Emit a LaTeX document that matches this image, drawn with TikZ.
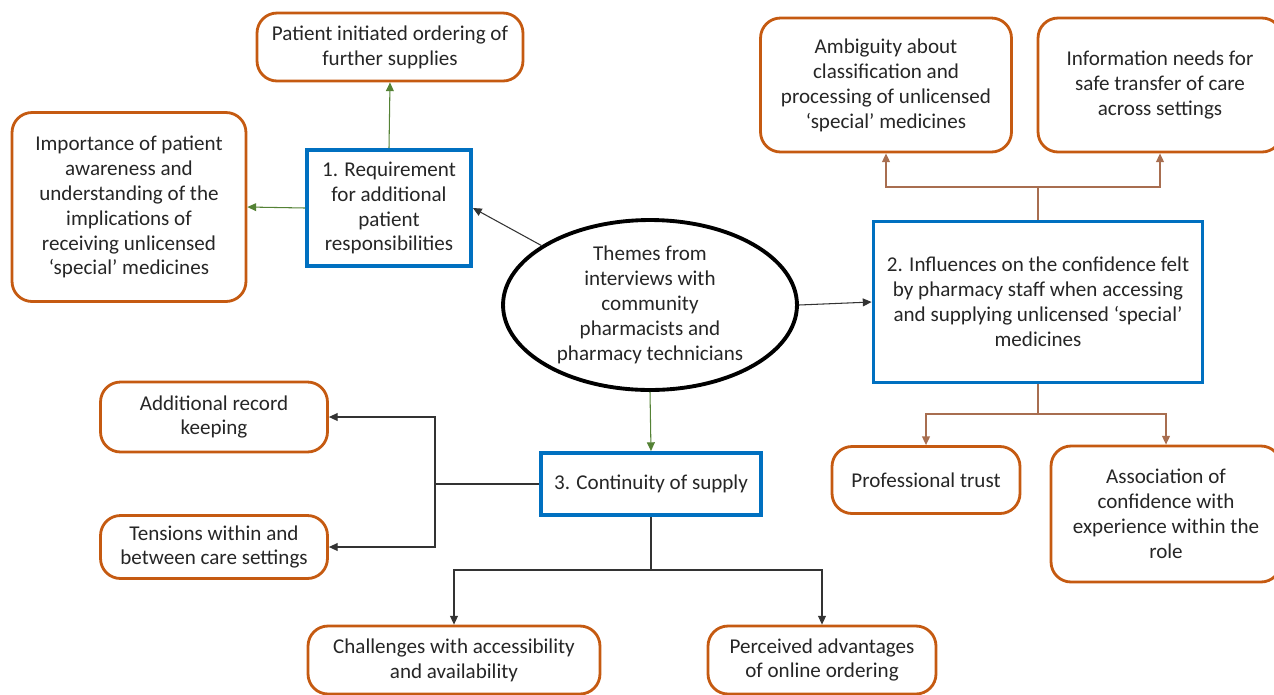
\documentclass[tikz,border=0pt]{standalone}
\usepackage{fontspec}
\setmainfont{Carlito}
\usetikzlibrary{shapes.geometric,arrows.meta}
\definecolor{boxorange}{RGB}{197,90,17}
\definecolor{themeblue}{RGB}{0,112,192}
\definecolor{linkgreen}{RGB}{84,130,53}
\definecolor{linkbrown}{RGB}{168,110,80}
\begin{document}
\begin{tikzpicture}[x=0.02cm,y=-0.02cm,
    every node/.style={align=center,inner sep=0pt,text=black!85,
      font=\fontsize{12}{14.2}\selectfont},
    subtheme/.style={draw=boxorange,line width=1.6pt,rounded corners=0.4cm},
    theme/.style={draw=themeblue,line width=2.2pt},
    tip/.style={-{Triangle[length=5pt,width=4.5pt]}},
    greenlink/.style={tip,draw=linkgreen,line width=0.6pt},
    brownlink/.style={draw=linkbrown,line width=0.8pt},
    blacklink/.style={draw=black!80,line width=0.6pt}]
    \useasboundingbox (0,0) rectangle (1274,694);
    \node [draw=black,line width=2.2pt,ellipse,minimum width=5.88cm,minimum height=3.4cm] (core) at (650,305)
        {Themes from\\interviews with\\community\\pharmacists and\\pharmacy technicians};
    \node [theme,minimum width=3.28cm,minimum height=2.32cm] (req) at (389,208)
        {1. Requirement\\for additional\\patient\\responsibilities};
    \node [theme,minimum width=6.58cm,minimum height=3.22cm] (conf) at (1038,302)
        {2. Influences on the confidence felt\\by pharmacy staff when accessing\\and supplying unlicensed `special'\\medicines};
    \node [theme,minimum width=4.4cm,minimum height=1.24cm] (cont) at (651,484)
        {3. Continuity of supply};
    \node [subtheme,minimum width=5.32cm,minimum height=1.36cm] (order) at (390,47)
        {Patient initiated ordering of\\further supplies};
    \node [subtheme,minimum width=4.68cm,minimum height=3.78cm] (aware) at (129,207)
        {Importance of patient\\awareness and\\understanding of the\\implications of\\receiving unlicensed\\`special' medicines};
    \node [subtheme,minimum width=5.02cm,minimum height=2.68cm] (ambig) at (886,85)
        {Ambiguity about\\classification and\\processing of unlicensed\\`special' medicines};
    \node [subtheme,minimum width=4.88cm,minimum height=2.68cm] (info) at (1160,85)
        {Information needs for\\safe transfer of care\\across settings};
    \node [subtheme,minimum width=3.76cm,minimum height=1.34cm] (trust) at (926,480)
        {Professional trust};
    \node [subtheme,minimum width=4.6cm,minimum height=2.72cm] (exper) at (1166,514)
        {Association of\\confidence with\\experience within the\\role};
    \node [subtheme,minimum width=4.54cm,minimum height=1.4cm] (record) at (214,417)
        {Additional record\\keeping};
    \node [subtheme,minimum width=4.54cm,minimum height=1.26cm] (tension) at (214,547)
        {Tensions within and\\between care settings};
    \node [subtheme,minimum width=5.84cm,minimum height=1.36cm] (access) at (454,660)
        {Challenges with accessibility\\and availability};
    \node [subtheme,minimum width=4.56cm,minimum height=1.36cm] (online) at (822,660)
        {Perceived advantages\\of online ordering};
    \coordinate (confup) at (1038,187);
    \coordinate (confdown) at (1038,414);
    \coordinate (contleft) at (435,484);
    \coordinate (contdown) at (651,570);
    \draw [blacklink,tip] (core) -- (req.east);
    \draw [blacklink,tip] (core.east) -- (conf.west);
    \draw [greenlink] (core.south) -- (cont.north);
    \draw [greenlink] (req.north) -- (order.south);
    \draw [greenlink] (req.west) -- (aware.east);
    \draw [brownlink] (conf.north) -- (confup);
    \draw [brownlink,tip] (confup) -| (ambig.south);
    \draw [brownlink,tip] (confup) -| (info.south);
    \draw [brownlink] (conf.south) -- (confdown);
    \draw [brownlink,tip] (confdown) -| (trust.north);
    \draw [brownlink,tip] (confdown) -| (exper.north);
    \draw [blacklink] (cont.west) -- (contleft);
    \draw [blacklink,tip] (contleft) |- (record.east);
    \draw [blacklink,tip] (contleft) |- (tension.east);
    \draw [blacklink] (cont.south) -- (contdown);
    \draw [blacklink,tip] (contdown) -| (access.north);
    \draw [blacklink,tip] (contdown) -| (online.north);
\end{tikzpicture}
\end{document}
